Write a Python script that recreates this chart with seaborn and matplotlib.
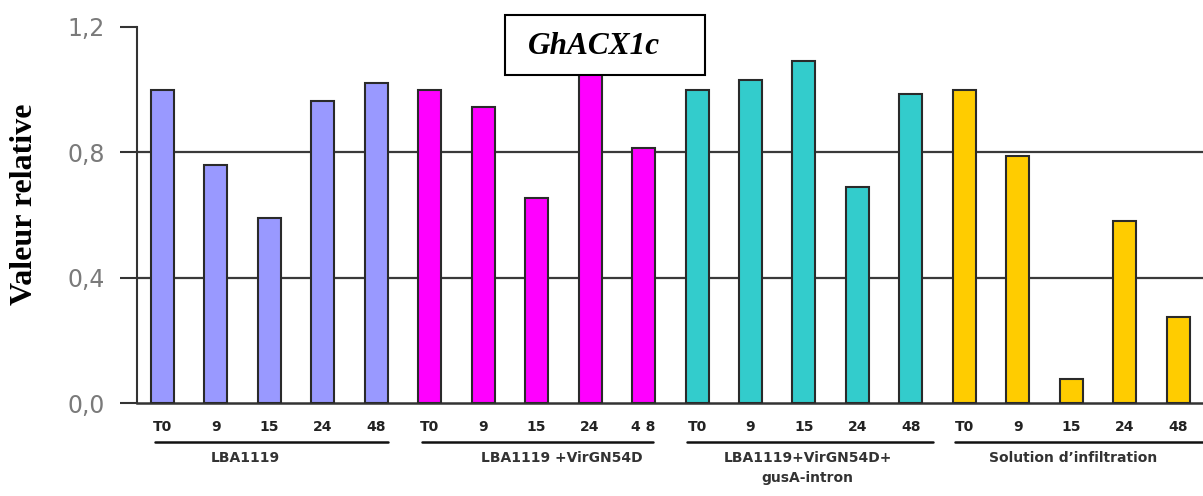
import matplotlib
matplotlib.use("Agg")
import matplotlib.pyplot as plt
import matplotlib.transforms as mtransforms
import seaborn as sns
import pandas as pd

# ---- data ----
groups = ["LBA1119", "LBA1119 +VirGN54D", "LBA1119+VirGN54D+\ngusA-intron", "Solution d\u2019infiltration"]
times = ["T0", "9", "15", "24", "48"]
time_labels_per_group = [
    ["T0", "9", "15", "24", "48"],
    ["T0", "9", "15", "24", "4 8"],
    ["T0", "9", "15", "24", "48"],
    ["T0", "9", "15", "24", "48"],
]
values_lba = [1.00, 0.76, 0.59, 0.965, 1.02]
values_virg = [1.00, 0.945, 0.655, 1.07, 0.815]
values_gus = [1.00, 1.03, 1.09, 0.69, 0.985]
values_sol = [1.00, 0.787, 0.077, 0.58, 0.276]
yticks = [0.0, 0.4, 0.8, 1.2]
ytick_labels = ["0,0", "0,4", "0,8", "1,2"]
title = "GhACX1c"
ylabel = "Valeur relative"

colors = ["#9999FF", "#FF00FF", "#33CCCC", "#FFCC00"]

all_values = [values_lba, values_virg, values_gus, values_sol]
rows = []
for g, vals in zip(groups, all_values):
    for t, v in zip(times, vals):
        rows.append({"key": f"{g}|{t}", "group": g, "value": v})
df = pd.DataFrame(rows)
order = list(df["key"])

sns.set_theme(style="white")
plt.rcParams["font.family"] = ["DejaVu Sans"]

fig = plt.figure(figsize=(12.03, 4.96), dpi=100)
ax = fig.add_axes([137 / 1203, 1 - 403 / 496, 1 - 137 / 1203, (403 - 27) / 496])

sns.barplot(data=df, x="key", y="value", hue="group", order=order, hue_order=groups,
            palette=colors, saturation=1, dodge=False, width=0.43, edgecolor="#2a2a2a",
            linewidth=1.5, legend=False, ax=ax, zorder=3)

ax.set_ylim(0, 1.2)
ax.set_xlim(-0.47, 19.46)
ax.set_yticks(yticks)
ax.set_yticklabels(ytick_labels, color="#7a7a7a", fontsize=17)
ax.tick_params(axis="y", which="major", length=12, width=1.5, color="#333333", pad=11, left=True)
ax.tick_params(axis="x", length=0, pad=12)
flat_labels = [l for grp in time_labels_per_group for l in grp]
ax.set_xticks(range(len(flat_labels)))
ax.set_xticklabels(flat_labels, fontsize=10, fontweight="bold", color="#222222")
ax.set_xlabel("")
ax.set_ylabel("")

for y in [0.4, 0.8]:
    ax.axhline(y, color="#3a3a3a", lw=1.6, zorder=1)
for s in ["top", "right"]:
    ax.spines[s].set_visible(False)
ax.spines["left"].set_color("#333333")
ax.spines["left"].set_linewidth(1.5)
ax.spines["bottom"].set_color("#333333")
ax.spines["bottom"].set_linewidth(1.8)

# group underline + labels
trans = mtransforms.blended_transform_factory(ax.transData, ax.transAxes)
line_spans = [(-0.13, 4.22), (4.86, 9.18), (9.81, 14.41), (14.82, 19.5)]
label_x = [1.55, 7.48, 12.07, 17.03]
for (x0, x1), lx, g in zip(line_spans, label_x, groups):
    ax.plot([x0, x1], [-0.104, -0.104], transform=trans, color="#111111", lw=1.8, clip_on=False)
    ax.text(lx, -0.128, g, transform=trans, ha="center", va="top", fontsize=10,
            fontweight="bold", color="#333333", linespacing=1.5)

fig.text(25 / 1203, 1 - 204 / 496, ylabel, rotation=90, ha="center", va="center",
         fontsize=23, fontweight="bold", family="Liberation Serif", color="black")

# title box
fig.text(528 / 1203, 1 - 46 / 496, title, ha="left", va="center", fontsize=22.5,
         fontweight="bold", fontstyle="italic", family="Liberation Serif", color="black",
         zorder=10)
box = plt.Rectangle((505 / 1203, 1 - 75 / 496), 200 / 1203, 60 / 496, transform=fig.transFigure,
                    facecolor="white", edgecolor="black", lw=1.5, zorder=9)
fig.add_artist(box)

fig.savefig("out.png", dpi=100)
